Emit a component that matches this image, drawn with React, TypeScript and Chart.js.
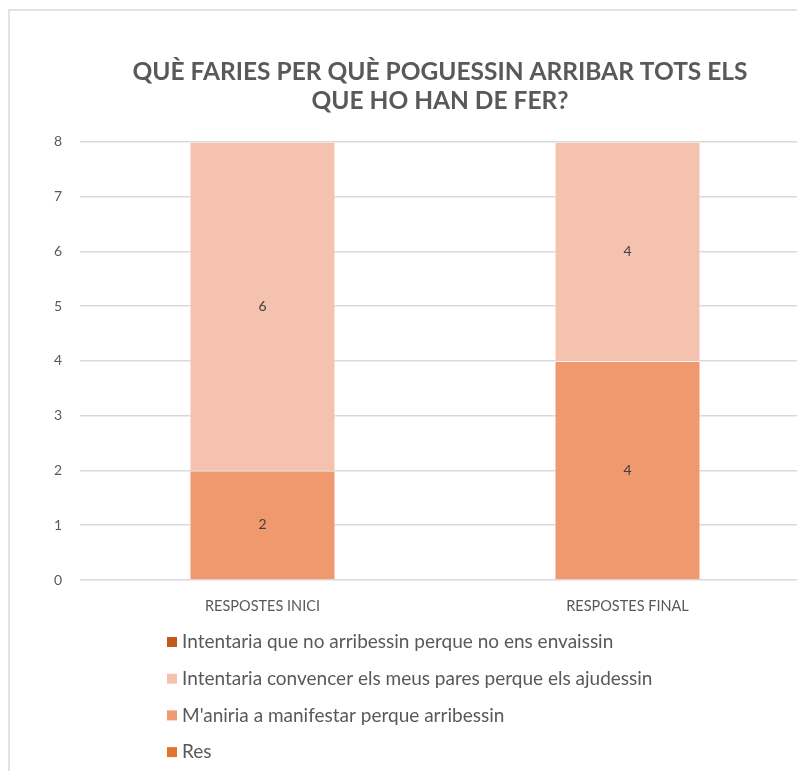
import React, { useEffect, useRef } from "react";
import Chart from "chart.js/auto";

const TITLE_LINES = ["QUÈ FARIES PER QUÈ POGUESSIN ARRIBAR TOTS ELS", "QUE HO HAN DE FER?"];
const CATEGORIES = ["RESPOSTES INICI", "RESPOSTES FINAL"];
// stack order bottom -> top
const SERIES_NAMES = [
  "Res",
  "M'aniria a manifestar perque arribessin",
  "Intentaria convencer els meus pares perque els ajudessin",
  "Intentaria que no arribessin perque no ens envaissin",
];
const RES = [0, 0];
const MANIFESTAR = [2, 4];
const CONVENCER = [6, 4];
const NO_ARRIBESSIN = [0, 0];
const SERIES_COLORS = ["#E2752D", "#F0986E", "#F5C2AF", "#C0591B"];
const Y_TICKS = [0, 1, 2, 3, 4, 5, 6, 7, 8];

const FONT = "Lato, 'Open Sans', sans-serif";
const TEXT_COLOR = "#595959";

const valueLabels = {
  id: "valueLabels",
  afterDatasetsDraw(chart: any) {
    const ctx = chart.ctx;
    ctx.save();
    ctx.font = `14px ${FONT}`;
    ctx.fillStyle = "#404040";
    ctx.textAlign = "center";
    ctx.textBaseline = "middle";
    chart.data.datasets.forEach((ds: any, di: number) => {
      const meta = chart.getDatasetMeta(di);
      meta.data.forEach((el: any, i: number) => {
        const v = ds.data[i];
        if (!v) return;
        const p = el.getProps(["x", "y", "base"], true);
        ctx.fillText(String(v), p.x, (p.y + p.base) / 2);
      });
    });
    ctx.restore();
  },
};

const customLegend = {
  id: "customLegend",
  afterDraw(chart: any) {
    const ctx = chart.ctx;
    const area = chart.chartArea;
    ctx.save();
    ctx.font = `19px ${FONT}`;
    ctx.textAlign = "left";
    ctx.textBaseline = "middle";
    const ds = chart.data.datasets.slice().reverse();
    ds.forEach((d: any, i: number) => {
      const y = area.bottom + 62 + i * 36.7;
      ctx.fillStyle = d.backgroundColor;
      ctx.fillRect(157, y - 5, 10, 10);
      ctx.fillStyle = TEXT_COLOR;
      ctx.fillText(d.label, 172, y);
    });
    ctx.restore();
  },
};

export default function App() {
  const ref = useRef<HTMLCanvasElement>(null);
  useEffect(() => {
    if (!ref.current) return;
    const seriesData = [RES, MANIFESTAR, CONVENCER, NO_ARRIBESSIN];
    const chart = new Chart(ref.current, {
      type: "bar",
      data: {
        labels: CATEGORIES,
        datasets: SERIES_NAMES.map((name, i) => ({
          label: name,
          data: seriesData[i],
          backgroundColor: SERIES_COLORS[i],
          borderColor: "rgba(255,255,255,0.35)",
          borderWidth: 1,
          barPercentage: 0.4,
          categoryPercentage: 1.0,
        })),
      },
      options: {
        animation: false,
        responsive: false,
        devicePixelRatio: 1,
        layout: { padding: { left: 0, right: 0, top: 0, bottom: 151 } },
        plugins: {
          legend: { display: false },
          tooltip: { enabled: false },
          title: {
            display: true,
            text: TITLE_LINES,
            color: TEXT_COLOR,
            font: { family: FONT, size: 24.5, weight: "bold", lineHeight: 1.16 },
            padding: { top: 46, bottom: 27 },
          },
        },
        scales: {
          x: {
            stacked: true,
            grid: { display: false },
            border: { display: false },
            ticks: { color: TEXT_COLOR, font: { family: FONT, size: 14.5 }, padding: 10 },
            afterFit(scale: any) {
              scale.height = 40;
            },
          },
          y: {
            stacked: true,
            min: 0,
            max: 8,
            afterBuildTicks(scale: any) {
              scale.ticks = Y_TICKS.map((v) => ({ value: v }));
            },
            grid: { color: "#d9d9d9", lineWidth: 1.5, drawTicks: false },
            border: { display: false },
            ticks: { color: TEXT_COLOR, font: { family: FONT, size: 14 }, padding: 18 },
            afterFit(scale: any) {
              scale.width = 70;
            },
          },
          yRight: {
            position: "right",
            display: true,
            grid: { display: false },
            border: { display: false },
            ticks: { display: false },
            afterFit(scale: any) {
              scale.width = 60;
            },
          },
        },
      },
      plugins: [valueLabels, customLegend],
    });
    return () => chart.destroy();
  }, []);

  return (
    <div style={{ position: "fixed", left: 0, top: 0, width: 797, height: 771, overflow: "hidden", background: "#fff" }}>
      <div
        style={{
          position: "absolute",
          left: 8,
          top: 9,
          width: 900,
          height: 900,
          border: "2px solid #e2e2e2",
          boxSizing: "border-box",
        }}
      />
      <canvas
        ref={ref}
        width={860}
        height={759}
        style={{ position: "absolute", left: 10, top: 12, width: 860, height: 759 }}
      />
    </div>
  );
}
